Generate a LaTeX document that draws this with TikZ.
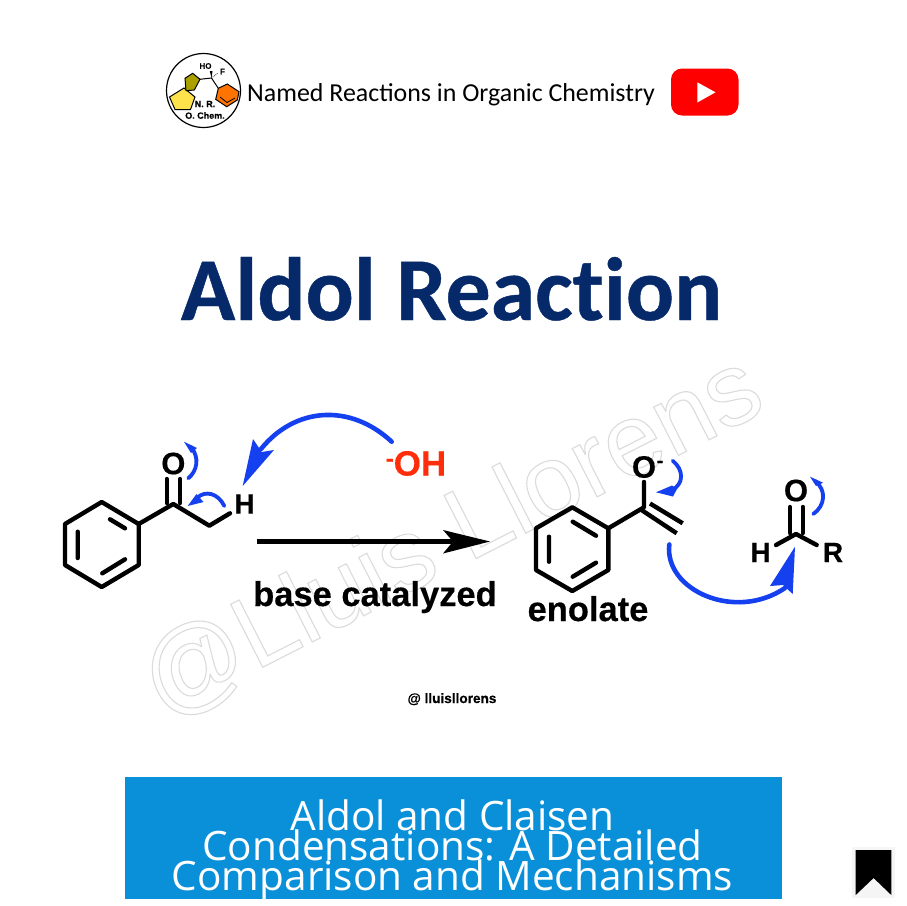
\documentclass[tikz,border=0pt]{standalone}
\usepackage{fontspec}
\setmainfont[BoldFeatures={FakeBold=0.4}]{Liberation Sans}
\newfontfamily\plainsans{Liberation Sans}
\newfontfamily\carlito[BoldFeatures={FakeBold=0.5}]{Carlito}
\newfontfamily\opensans{Open Sans}
\definecolor{arrowblue}{HTML}{1440F0}
\definecolor{titleblue}{HTML}{06296A}
\definecolor{bandblue}{HTML}{0A8FD9}
\definecolor{ohred}{HTML}{FF2D0A}
\definecolor{wmgray}{gray}{0.86}
\tikzset{
  x=1pt,y=-1pt,
  bond/.style={line width=4.4pt,line cap=round,line join=round,black},
  curly/.style={line width=4.6pt,line cap=round,arrowblue},
  curlysmall/.style={line width=3.8pt,line cap=round,arrowblue},
  head/.style={fill=arrowblue,draw=none},
  atom/.style={font=\bfseries\fontsize{31}{31}\selectfont,inner sep=0pt,text=black},
  caption/.style={font=\bfseries\fontsize{34.5}{34.5}\selectfont,inner sep=0pt,anchor=base,text=black},
  logotext/.style={font=\bfseries\fontsize{9}{9}\selectfont,inner sep=0pt,text=black},
  bandtext/.style={font=\opensans\fontsize{40.5}{40.5}\selectfont,inner sep=0pt,anchor=base,text=white},
}
\begin{document}
\begin{tikzpicture}
\useasboundingbox (0,0) rectangle (906,906);
\fill[white] (0,0) rectangle (906,906);

% watermark
\node[rotate=27,inner sep=0pt,text=wmgray] (wm) at (452,537)
  {\plainsans\fontsize{102.7}{102.7}\selectfont\special{pdf:code 1 Tr 1.1 w 0.86 G}@Lluis Llorens\special{pdf:code 0 Tr}};

% header logo
\node[circle,draw=black,line width=1.2pt,minimum size=74pt,inner sep=0pt] (logo) at (203.5,90.5) {};
\draw[black,line width=1pt,fill=yellow!75!orange!70] (184,88)--(195,97)--(190.5,109.5)--(175,109.5)--(169.5,97)--cycle;
\draw[black,line width=1pt,fill=olive!75!yellow] (186,90.7)--(194.3,90)--(200,79.3)--(192.7,73.3)--(185,78.3)--cycle;
\draw[black,line width=1pt,fill=orange!90!red] (227.3,84)--(239,91.7)--(237.3,100)--(226.7,106.7)--(215.7,99.3)--(218.3,88.3)--cycle;
\coordinate (lc) at (211.5,78);
\draw[black,line width=1pt] (200,79.3)--(lc)--(218.3,88.3);
\draw[black,line width=.8pt] (220,97)--(227,102.5)--(235,98);
\fill[black] (lc)--(209.8,71)--(212.5,71)--cycle;
\draw[black,line width=.7pt,densely dotted] (lc)--(218,73);
\node[logotext] (lhof) at (205.5,66) {\fontsize{8}{8}\selectfont HO};
\node[logotext] (lf) at (222.5,71.5) {\fontsize{8}{8}\selectfont F};
\node[logotext] (lnr) at (205,104) {N. R.};
\node[logotext] (loc) at (205,115.5) {O. Chem.};

% header text
\node[font=\carlito\fontsize{25.9}{25.9}\selectfont,inner sep=0pt,anchor=base west,text=black] (hdr) at (247,101) {Named Reactions in Organic Chemistry};

% youtube
\fill[red,rounded corners=11pt] (671,68.5) rectangle (738.5,115.5);
\fill[white] (697.3,82.3)--(715.5,92.3)--(697.3,102.5)--cycle;

% title
\node[font=\carlito\bfseries\fontsize{89.8}{89.8}\selectfont,inner sep=0pt,anchor=base,text=titleblue] (title) at (451.5,320) {Aldol Reac\kern0pt t\kern0pt ion};

% molecule 1
\foreach \n/\p in {a1/{101.7,502},a2/{138.7,524},a3/{138.7,565},a4/{101.7,587},a5/{65,565},a6/{65,524},
  c1/{173.3,504},c2/{209.3,525.7},c3/{230,513.3}} {\coordinate (\n) at (\p);}
\draw[bond] (a1)--(a2)--(a3)--(a4)--(a5)--(a6)--cycle;
\draw[bond] (110,519.3)--(125,528.3) (77.7,531.7)--(77.7,558) (102.3,573.3)--(125,559.3);
\draw[bond] (a2)--(c1)--(c2)--(c3);
\draw[bond] (166.7,479)--(166.7,503) (180,479)--(180,503);
\node[atom] (o1) at (173.3,463.5) {O};
\node[atom,font=\bfseries\fontsize{28}{28}\selectfont] (h1) at (244.5,504) {H};

% curly arrows, molecule 1
\coordinate (oh-start) at (391.7,441.7);
\coordinate (h1-tip) at (242.7,486);
\draw[curly] (oh-start) .. controls (350,403) and (295,407) .. (261,449);
\fill[head] (h1-tip)--(253,439)--(261.7,452)--(274,450)--cycle;
\draw[curlysmall] (188.3,478.3) .. controls (197,471) and (200,458) .. (191,447);
\fill[head] (184,441.7)--(197,448)--(191,453)--cycle;
\draw[curlysmall] (224.3,506) .. controls (218,493) and (205,490) .. (197,498);
\fill[head] (187.7,506)--(196.5,494)--(203.5,502)--cycle;

% main arrow
\coordinate (ma-s) at (256.5,541.5);
\coordinate (ma-e) at (490,541.5);
\draw[black,line width=5pt] (ma-s)--(455,541.5);
\fill[black] (ma-e)--(443,530)--(453,541.5)--(443,553.5)--cycle;
\node[caption] (cat) at (375,606) {base catalyzed};
\node[font=\bfseries\fontsize{35}{35}\selectfont,inner sep=0pt,anchor=base,text=ohred] (oh) at (416,475.5)
  {\raisebox{9pt}{\fontsize{24}{24}\selectfont -}OH};

% molecule 2
\foreach \n/\p in {b1/{572.3,507.3},b2/{608.3,528.3},b3/{608.3,570},b4/{572.3,591},b5/{536,570},b6/{536,528.3},
  d1/{644,507.3},d2/{644,482}} {\coordinate (\n) at (\p);}
\draw[bond] (b1)--(b2)--(b3)--(b4)--(b5)--(b6)--cycle;
\draw[bond] (572.7,521.7)--(596,535.7) (549,536.7)--(549,561.7) (572.7,576.7)--(596,562.7);
\draw[bond] (b2)--(d1)--(d2);
\draw[bond,line cap=butt] (650,503.5)--(682.7,523.3) (640,509)--(676.7,533.3);
\node[atom] (o2) at (644,467) {O};
\node[font=\bfseries\fontsize{20}{20}\selectfont,inner sep=0pt,text=black] (om) at (660,464) {-};
\node[caption] (eno) at (588,621) {enolate};

\draw[curlysmall] (672.7,460.7) .. controls (684,470) and (684,484) .. (672,490);
\fill[head] (656,492.3)--(672,485.5)--(677,489)--(673,496.5)--cycle;

% molecule 3
\foreach \n/\p in {e1/{796,534},e2/{776,545},e3/{816.7,545}} {\coordinate (\n) at (\p);}
\draw[bond] (e2)--(e1)--(e3);
\draw[bond] (790,507)--(790,533) (802.7,507)--(802.7,533);
\node[atom] (o3) at (796,490.5) {O};
\node[atom,font=\bfseries\fontsize{28}{28}\selectfont] (h3) at (760.5,552.5) {H};
\node[atom,font=\bfseries\fontsize{28}{28}\selectfont] (r3) at (833,552.5) {R};

\draw[curlysmall] (813.3,514) .. controls (825,506) and (827,490) .. (815,481);
\fill[head] (810,476.7)--(823,482.7)--(816,486)--cycle;
\draw[curly] (669.3,544.5) .. controls (664,590) and (735,622) .. (785,588);
\fill[head] (795,546.7)--(792.7,594)--(783,585)--(770,586)--cycle;

% small credit
\node[font=\bfseries\fontsize{13.6}{13.6}\selectfont,inner sep=0pt,anchor=base,text=black] (credit) at (452,703) {@ lluisllorens};

% band
\begin{scope}
\clip (125,777) rectangle (782,899);
\fill[bandblue] (125,777) rectangle (782,899);
\node[bandtext] (l1) at (452.5,830) {Aldol and Claisen};
\node[bandtext] (l2) at (452.5,860) {Condensations: A Detailed};
\node[bandtext] (l3) at (452.5,890) {Comparison and Mechanisms};
\end{scope}

% bookmark
\fill[black!4] (852,847) rectangle (895,898);
\fill[black] (855.7,850)--(891.3,850)--(891.3,895)--(873.6,878)--(855.7,895)--cycle;
\end{tikzpicture}
\end{document}
